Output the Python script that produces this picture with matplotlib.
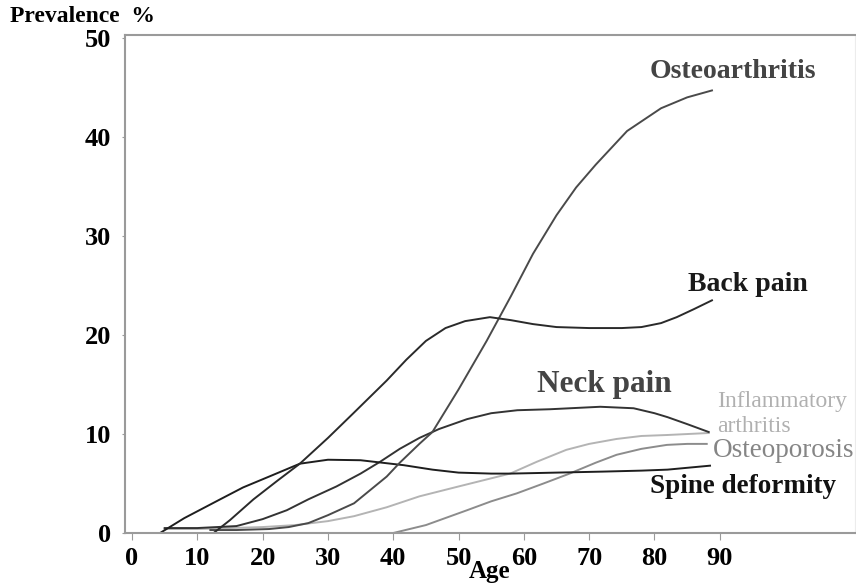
import matplotlib
matplotlib.use("Agg")
import matplotlib.pyplot as plt

plt.rcParams['font.family'] = ['Liberation Serif', 'DejaVu Serif']

# prevalence (%) by age
oa_age = [12, 16, 21, 24, 27, 30, 34, 39, 41, 44, 46, 50, 54.3, 58, 61.4, 65, 68, 71, 75.8, 81, 85, 88.8]
oa_val = [0.3, 0.3, 0.4, 0.6, 1.0, 1.8, 3.0, 5.7, 7.1, 9.0, 10.2, 14.5, 19.4, 23.9, 28.2, 32.1, 34.9, 37.2, 40.6, 42.9, 44.0, 44.7]

back_age = [12.5, 15, 18.6, 22.3, 25.7, 30, 33.9, 39, 42, 45, 48, 51, 54.8, 58, 61.4, 65, 70, 75, 78, 81, 83.4, 86, 88.8]
back_val = [0, 1.3, 3.4, 5.3, 7.0, 9.6, 12.1, 15.4, 17.5, 19.4, 20.7, 21.4, 21.8, 21.5, 21.1, 20.8, 20.7, 20.7, 20.8, 21.2, 21.8, 22.6, 23.5]

neck_age = [5, 10, 16, 20, 23.7, 27, 31.3, 35, 38, 41, 44, 47, 51.3, 55, 59, 64, 71.7, 76.8, 80, 82, 85, 88.3]
neck_val = [0.5, 0.5, 0.7, 1.4, 2.3, 3.4, 4.7, 6.0, 7.2, 8.5, 9.6, 10.5, 11.5, 12.1, 12.4, 12.5, 12.75, 12.6, 12.1, 11.7, 11.0, 10.2]

ia_age = [5, 10, 15, 20, 25, 30, 34, 39, 44, 50, 57.9, 62, 66.5, 70, 74.2, 78, 82, 88.3]
ia_val = [0.4, 0.4, 0.5, 0.6, 0.8, 1.2, 1.7, 2.6, 3.7, 4.7, 6.0, 7.2, 8.4, 9.0, 9.5, 9.8, 9.9, 10.1]

osteo_age = [12, 20, 30, 40, 45, 51.3, 55, 58.9, 63, 67, 71, 74.2, 78, 81.9, 85, 88]
osteo_val = [0, 0, 0, 0, 0.8, 2.3, 3.2, 4.0, 5.0, 6.0, 7.1, 7.9, 8.5, 8.9, 9.0, 9.0]

spine_age = [4.3, 8, 13.5, 17, 21, 25.7, 30, 35, 41.6, 46, 50, 55, 58, 65, 72, 78, 82, 88.5]
spine_val = [0, 1.5, 3.4, 4.6, 5.7, 7.0, 7.4, 7.35, 6.85, 6.4, 6.1, 6.0, 6.0, 6.1, 6.2, 6.3, 6.4, 6.8]

xticks = [0, 10, 20, 30, 40, 50, 60, 70, 80, 90]
yticks = [0, 10, 20, 30, 40, 50]

fig = plt.figure(figsize=(8.56, 5.85), dpi=100)
ax = fig.add_axes([125/856, 1 - 533/585, 730/856, (533 - 35)/585])

lw = 1.4
ax.plot(osteo_age, osteo_val, color='#8c8c8c', lw=lw)
ax.plot(ia_age, ia_val, color='#b4b4b4', lw=lw)
ax.plot(neck_age, neck_val, color='#333333', lw=lw)
ax.plot(spine_age, spine_val, color='#1e1e1e', lw=lw)
ax.plot(oa_age, oa_val, color='#4a4a4a', lw=lw)
ax.plot(back_age, back_val, color='#2a2a2a', lw=lw)

ax.set_xlim(-1.07, 110.7)
ax.set_ylim(0, 50.3)
ax.set_xticks(xticks)
ax.set_yticks(yticks)

for s in ['left', 'bottom', 'top']:
    ax.spines[s].set_color('#9a9a9a')
    ax.spines[s].set_linewidth(1.5)
ax.spines['right'].set_color('#ececec')
ax.tick_params(axis='x', direction='out', length=5, color='#9a9a9a', pad=5,
               labelsize=19)
ax.tick_params(axis='y', direction='out', length=2, color='#9a9a9a', pad=8,
               labelsize=19)
for t in ax.get_xticklabels() + ax.get_yticklabels():
    t.set_fontweight('bold')

ax.set_xlabel('Age', fontsize=18, fontweight='bold', labelpad=-7)
fig.text(10/856, 1 - 17/585, 'Prevalence  %', fontsize=17, fontweight='bold',
         ha='left', va='center')

# curve labels
ax.text(79.3, 46.6, 'Osteoarthritis', fontsize=20, fontweight='bold',
        color='#444444', va='center', clip_on=False)
ax.text(85.1, 25.1, 'Back pain', fontsize=20, fontweight='bold',
        color='#1a1a1a', va='center', clip_on=False)
ax.text(62.0, 14.95, 'Neck pain', fontsize=22.5, fontweight='bold',
        color='#444444', va='center', clip_on=False)
ax.text(89.6, 12.0, 'Inflammatory\narthritis', fontsize=17,
        color='#b0b0b0', va='center', linespacing=1.25, clip_on=False)
ax.text(89.0, 8.3, 'Osteoporosis', fontsize=19.5, color='#858585',
        va='center', clip_on=False)
ax.text(79.3, 4.65, 'Spine deformity', fontsize=19.5, fontweight='bold',
        color='#111111', va='center', clip_on=False)

fig.savefig('out.png', dpi=100)
